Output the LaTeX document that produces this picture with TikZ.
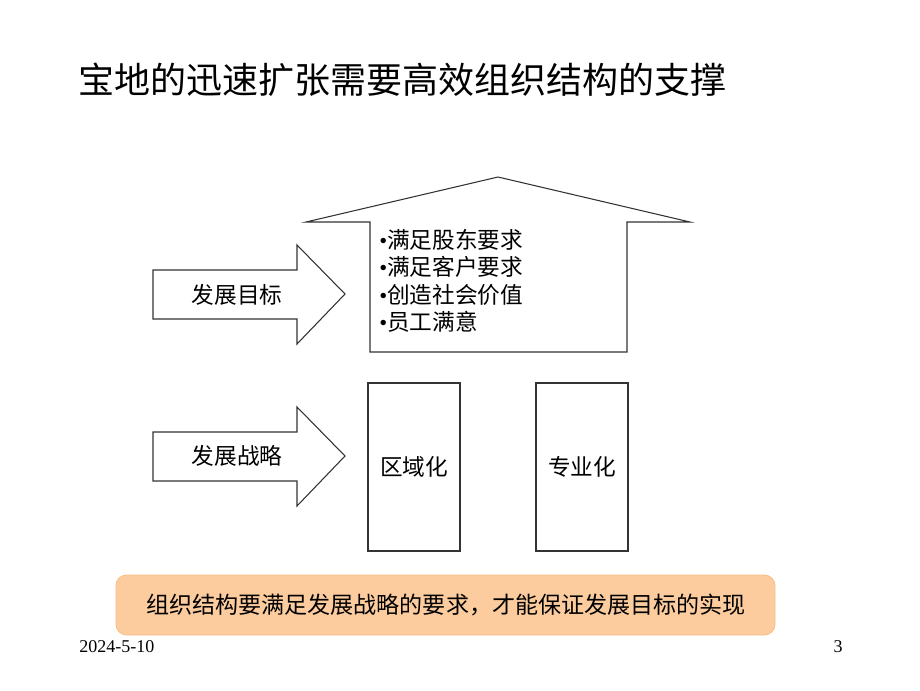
\documentclass[tikz,border=0pt]{standalone}
\usepackage{fontspec}
\setmainfont{Liberation Serif}
\newfontfamily\cjk{Noto Sans CJK SC}
\definecolor{peach}{RGB}{252,204,158}
\definecolor{peachedge}{RGB}{248,188,130}
\begin{document}
\begin{tikzpicture}[x=0.75pt,y=-0.75pt,
  shapeline/.style={draw=black!80,line width=0.8pt,fill=white,line join=miter},
  label/.style={inner sep=0pt,font=\cjk\fontsize{17}{20}\selectfont},
  item/.style={inner sep=0pt,anchor=west,font=\fontsize{17}{20}\selectfont}]
\useasboundingbox (0,0) rectangle (920,690);
% title
\node[inner sep=0pt,font=\cjk\fontsize{27}{30}\selectfont] (title) at (402,80) {宝地的迅速扩张需要高效组织结构的支撑};
% up arrow (house)
\draw[shapeline] (498,177) -- (690,222) -- (627,222) -- (627,352) -- (370,352) -- (370,222) -- (306,222) -- cycle;
\node[item] (l1) at (379,240) {•{\cjk 满足股东要求}};
\node[item] (l2) at (379,267) {•{\cjk 满足客户要求}};
\node[item] (l3) at (379,295) {•{\cjk 创造社会价值}};
\node[item] (l4) at (379,322) {•{\cjk 员工满意}};
% right arrows
\draw[shapeline] (153,270) -- (297,270) -- (297,245) -- (345,294) -- (297,344) -- (297,319) -- (153,319) -- cycle;
\node[label] (goal) at (237,295) {发展目标};
\draw[shapeline] (153,432) -- (297,432) -- (297,407) -- (345,456) -- (297,506) -- (297,481) -- (153,481) -- cycle;
\node[label] (strategy) at (237,456) {发展战略};
% pillars
\draw[shapeline] (368,383) rectangle (460,551);
\node[label] (region) at (414,467) {区域化};
\draw[shapeline] (536,383) rectangle (628,551);
\node[label] (special) at (582,467) {专业化};
% bottom note
\draw[fill=peach,draw=peachedge,line width=0.6pt,rounded corners=8pt] (116,575) rectangle (775,635);
\node[inner sep=0pt,font=\cjk\fontsize{17.3}{21}\selectfont] (note) at (446,605) {组织结构要满足发展战略的要求，才能保证发展目标的实现};
% footer
\node[inner sep=0pt,anchor=west,font=\fontsize{13.5}{16}\selectfont] (date) at (79,647) {2024-5-10};
\node[inner sep=0pt,font=\fontsize{13.5}{16}\selectfont] (page) at (838,647) {3};
\end{tikzpicture}
\end{document}
